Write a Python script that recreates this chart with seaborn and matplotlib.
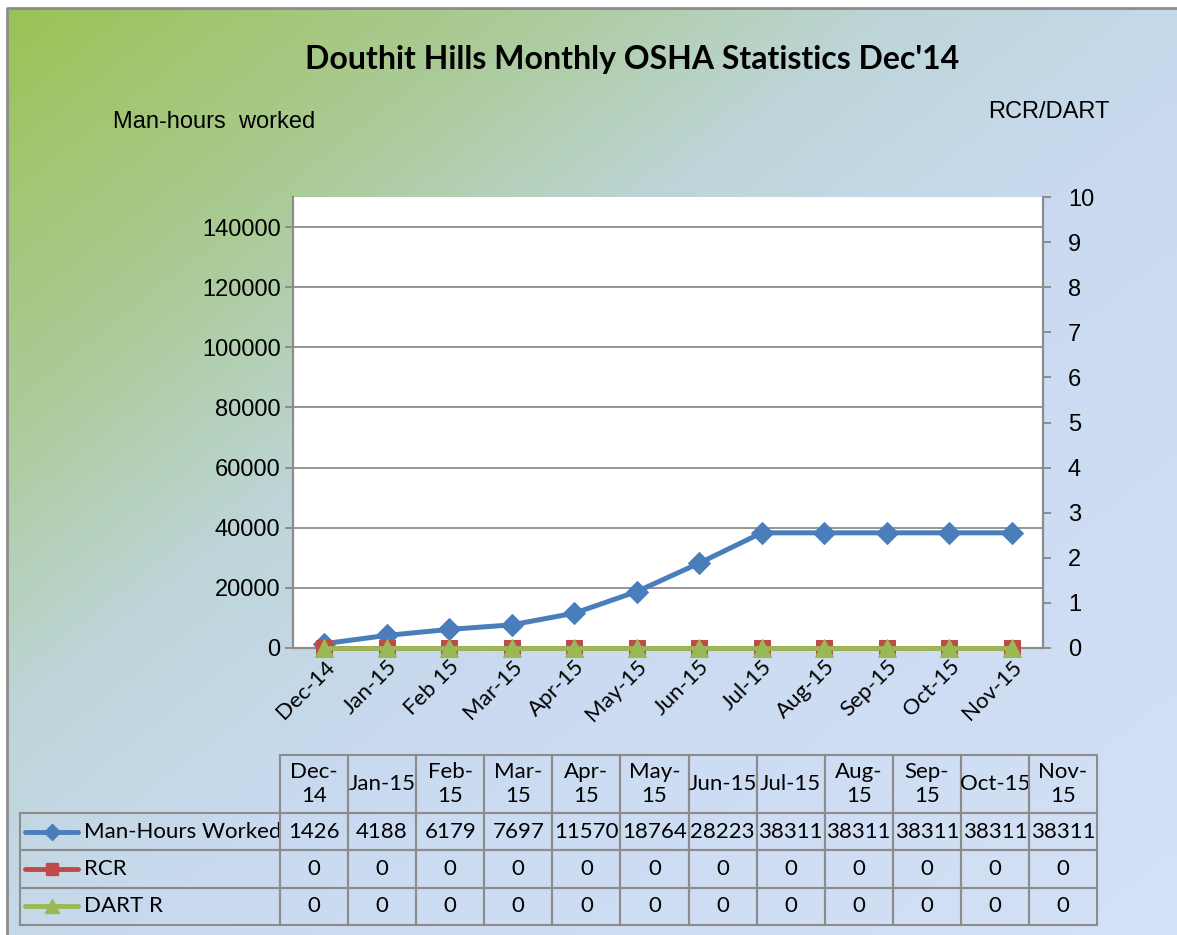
import numpy as np
import matplotlib
matplotlib.use("Agg")
import matplotlib.pyplot as plt
from matplotlib.colors import LinearSegmentedColormap
from matplotlib.lines import Line2D
import seaborn as sns

months = ["Dec-14", "Jan-15", "Feb 15", "Mar-15", "Apr-15", "May-15",
          "Jun-15", "Jul-15", "Aug-15", "Sep-15", "Oct-15", "Nov-15"]
table_headers = ["Dec-\n14", "Jan-15", "Feb-\n15", "Mar-\n15", "Apr-\n15", "May-\n15",
                 "Jun-15", "Jul-15", "Aug-\n15", "Sep-\n15", "Oct-15", "Nov-\n15"]
man_hours = [1426, 4188, 6179, 7697, 11570, 18764, 28223, 38311, 38311, 38311, 38311, 38311]
rcr = [0, 0, 0, 0, 0, 0, 0, 0, 0, 0, 0, 0]
dart = [0, 0, 0, 0, 0, 0, 0, 0, 0, 0, 0, 0]
series_names = ["Man-Hours Worked", "RCR", "DART R"]

BLUE = "#4A7EBB"
RED = "#BE4B48"
GREEN = "#98B954"
GRAY = "#8C8C8C"

sns.set_style("white")
plt.rcParams['font.family'] = ['Liberation Sans', 'DejaVu Sans']
plt.rcParams['text.color'] = 'black'
plt.rcParams['xtick.labelcolor'] = 'black'
plt.rcParams['ytick.labelcolor'] = 'black'

W, H = 1177, 935
fig = plt.figure(figsize=(W / 100, H / 100), dpi=100)

# background gradient (green top-left -> pale blue)
bg = fig.add_axes([0, 0, 1, 1], zorder=-5)
bg.set_xlim(0, W)
bg.set_ylim(H, 0)
bg.axis('off')
cmap = LinearSegmentedColormap.from_list(
    "bg", [(0.0, "#9BC255"), (0.22, "#ABCB98"), (0.38, "#BDD5D8"),
           (0.55, "#C9DAF0"), (1.0, "#D4E1F7")])
yy, xx = np.mgrid[0:1:200j, 0:1:200j]
bg.imshow((xx + yy) / 2, cmap=cmap, vmin=0, vmax=1, extent=[7, W, H, 8], aspect='auto')
bg.plot([7, 7, W], [H, 8, 8], color=GRAY, lw=2)

# main chart
x = np.arange(len(months))
ax = fig.add_axes([293 / W, 1 - 648 / H, 750 / W, 451 / H])
ax.set_facecolor("white")
sns.lineplot(x=x, y=man_hours, ax=ax, color=BLUE, lw=3.6, marker='D', markersize=11,
             markeredgecolor=BLUE, clip_on=False, zorder=3)
ax.set_xlim(-0.5, len(months) - 0.5)
ax.set_ylim(0, 150000)
ax.set_yticks(np.arange(0, 140001, 20000))
ax.yaxis.grid(True, color=GRAY, lw=1.3)
ax.set_axisbelow(True)
for s in ["top", "right"]:
    ax.spines[s].set_visible(False)
for s in ["left", "bottom"]:
    ax.spines[s].set_color(GRAY)
    ax.spines[s].set_linewidth(1.6)
ax.tick_params(axis='y', direction='out', length=6, width=1.4, color=GRAY,
               labelsize=17, pad=3, left=True)
ax.set_xticks(x)
ax.set_xticklabels(months, rotation=45, ha='right', rotation_mode='anchor',
                   fontsize=16, family='Lato')
ax.tick_params(axis='x', length=0, pad=6)

ax2 = ax.twinx()
sns.lineplot(x=x, y=rcr, ax=ax2, color=RED, lw=3.4, marker='s', markersize=11,
             markeredgecolor=RED, clip_on=False, zorder=3)
sns.lineplot(x=x, y=dart, ax=ax2, color=GREEN, lw=3.4, marker='^', markersize=13,
             markeredgecolor=GREEN, clip_on=False, zorder=4)
ax2.set_ylim(0, 10)
ax2.set_yticks(range(0, 11))
for s in ["top", "left", "bottom"]:
    ax2.spines[s].set_visible(False)
ax2.spines["right"].set_color(GRAY)
ax2.spines["right"].set_linewidth(1.6)
ax2.tick_params(axis='y', direction='out', length=6, width=1.4, color=GRAY,
                labelsize=17, pad=12, right=True)
ax2.set_xlim(-0.5, len(months) - 0.5)

# titles
fig.text(632 / W, 1 - 60 / H, "Douthit Hills Monthly OSHA Statistics Dec'14",
         ha='center', va='center', fontsize=23, fontweight='bold', family='Lato')
fig.text(113 / W, 1 - 122 / H, "Man-hours  worked", ha='left', va='center', fontsize=17)
fig.text(1110 / W, 1 - 112 / H, "RCR/DART", ha='right', va='center', fontsize=17)

# data table (series names as first column, empty top-left cell hidden)
tax = fig.add_axes([0, 0, 1, 1], zorder=2)
tax.set_xlim(0, W)
tax.set_ylim(0, H)
tax.axis('off')
cell_text = [[name] + [str(v) for v in vals]
             for name, vals in zip(series_names, [man_hours, rcr, dart])]
t_left, t_right, t_top, t_bottom = 20, 1097, 755, 925
label_w = 260
head_h, row_h = 58, 37.3
col_w = (t_right - t_left - label_w) / len(months)
tbl = tax.table(cellText=cell_text, colLabels=[""] + table_headers, cellLoc='center',
                bbox=[t_left / W, 1 - t_bottom / H, (t_right - t_left) / W,
                      (t_bottom - t_top) / H])
tbl.auto_set_font_size(False)
for (r, c), cell in tbl.get_celld().items():
    cell.set_edgecolor(GRAY)
    cell.set_linewidth(1.5)
    cell.set_facecolor('none')
    cell.set_height((head_h if r == 0 else row_h) / H)
    cell.set_width((label_w if c == 0 else col_w) / W)
    cell.get_text().set_fontsize(16)
    cell.get_text().set_family('Lato')
    cell.get_text().set_color('black')
    if c == 0:
        cell.PAD = 0.245
        cell.get_text().set_horizontalalignment('left')
    if r == 0:
        cell.get_text().set_linespacing(1.25)
        if c == 0:
            cell.set_visible(False)

# legend keys inside the row-label cells
keys = [(BLUE, 'D', 8), (RED, 's', 9), (GREEN, '^', 10)]
for i, (col, mk, ms) in enumerate(keys):
    yc = H - (t_top + head_h + row_h * (i + 0.5))
    tax.add_line(Line2D([25, 51.5, 78], [yc, yc, yc], color=col, lw=3.5, marker=mk,
                        markersize=ms, markevery=[1], markeredgecolor=col))

fig.savefig("out.png", dpi=100)
